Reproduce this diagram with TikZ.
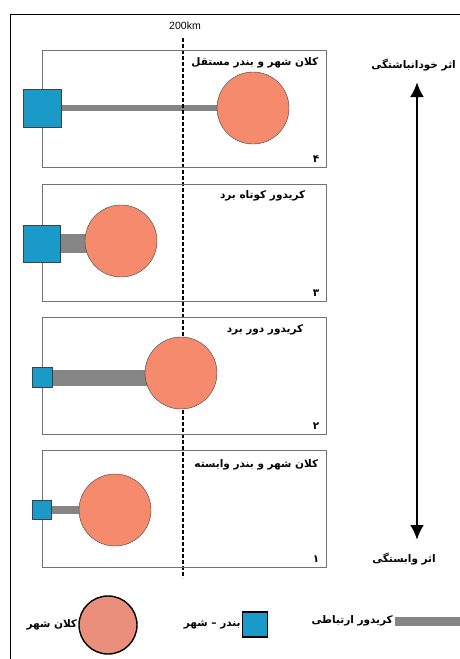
\documentclass[tikz,border=0pt]{standalone}
\usepackage{fontspec}
\setmainfont{Liberation Sans}
\newfontfamily\farsi[Script=Arabic]{DejaVu Sans}
\TeXXeTstate=1
\usetikzlibrary{arrows.meta,backgrounds,positioning}
\definecolor{cityred}{HTML}{F58B6C}
\definecolor{citylegend}{HTML}{EA8F7C}
\definecolor{portblue}{HTML}{1A9AC9}
\definecolor{corgray}{HTML}{858585}
\newcommand{\fa}[1]{{\farsi\bfseries\beginR #1\endR}}

\begin{document}
\begin{tikzpicture}[x=1pt,y=-1pt,
  city/.style={circle,draw=black!75,fill=cityred,minimum size=72pt,inner sep=0pt},
  port/.style={rectangle,draw=black!75,fill=portblue,inner sep=0pt},
  corridor/.style={draw=corgray,line cap=butt},
  panel/.style={rectangle,draw=black!55,line width=0.8pt,minimum width=284pt,minimum height=117pt,inner sep=0pt},
  lbl/.style={font=\fontsize{10.5}{12}\selectfont,inner sep=0pt}]
\clip (0,0) rectangle (460,659);
\draw[line width=0.9pt] (10,14) rectangle (480,680);
\node[lbl] (km) at (185,26) {200km};
\coordinate (dtop) at (183,38);
\coordinate (dbot) at (183,578);
% panels
\node[panel] (b4) at (184,108.5) {};
\node[panel] (b3) at (184,242.5) {};
\node[panel] (b2) at (184,376) {};
\node[panel] (b1) at (184,508.5) {};
\node[lbl,anchor=east] (t4) at ([xshift=-8pt,yshift=-13pt]b4.north east) {\fa{کلان شهر و بندر مستقل}};
\node[lbl,anchor=east] (t3) at ([xshift=-21pt,yshift=-12pt]b3.north east) {\fa{کریدور کوتاه برد}};
\node[lbl,anchor=east] (t2) at ([xshift=-23pt,yshift=-13pt]b2.north east) {\fa{کریدور دور برد}};
\node[lbl,anchor=east] (t1) at ([xshift=-8pt,yshift=-15pt]b1.north east) {\fa{کلان شهر و بندر وابسته}};
\foreach \b/\n in {b4/۴,b3/۳,b2/۲,b1/۱}
  \node[lbl,anchor=south east] (n\b) at ([xshift=-7pt,yshift=5pt]\b.south east) {\fa{\n}};
% cities and ports
\node[city] (c4) at (253,108) {};
\node[port,minimum size=38pt] (p4) at (42,108) {};
\node[city] (c3) at (121,241) {};
\node[port,minimum size=37pt] (p3) at (42,243.5) {};
\node[city] (c2) at (181,373) {};
\node[port,minimum size=20pt] (p2) at (42,377.5) {};
\node[city] (c1) at (115,510) {};
\node[port,minimum size=19pt] (p1) at (42,510) {};
\begin{pgfonlayer}{background}
\draw[corridor,line width=6pt] (p4.center) -- (p4.center -| c4.center);
\draw[corridor,line width=19pt] (p3.center) -- (p3.center -| c3.center);
\draw[corridor,line width=16pt] (p2.center) -- (p2.center -| c2.center);
\draw[corridor,line width=8pt] (p1.center) -- (p1.center -| c1.center);
\draw[line width=1.6pt,dash pattern=on 3.5pt off 2.5pt] (dtop) -- (dbot);
\end{pgfonlayer}
% effect arrow
\coordinate (up) at (417,82);
\coordinate (down) at (417,540);
\draw[line width=2.8pt,{Latex[length=15pt,width=14pt]}-{Latex[length=15pt,width=14pt]}] (up) -- (down);
\node[lbl,anchor=east] (top) at (456,65) {\fa{اثر خودانباشتگی}};
\node[lbl] (bottom) at (404,559) {\fa{اثر وابستگی}};
% legend
\node[circle,draw=black,line width=1.4pt,fill=citylegend,minimum size=58pt,inner sep=0pt] (lcity) at (108,625) {};
\node[lbl,left=1pt of lcity] (lcitytxt) {\fa{کلان شهر}};
\node[port,draw=black,line width=1.4pt,minimum size=25pt] (lport) at (255,624.5) {};
\node[lbl,left=1pt of lport] (lporttxt) {\fa{بندر – شهر}};
\coordinate (lbarstart) at (395,621);
\coordinate (lbarend) at (470,621);
\draw[corridor,line width=9pt] (lbarstart) -- (lbarend);
\node[lbl,left=2pt of lbarstart] (lbartxt) {\fa{کریدور ارتباطی}};
\end{tikzpicture}
\end{document}
